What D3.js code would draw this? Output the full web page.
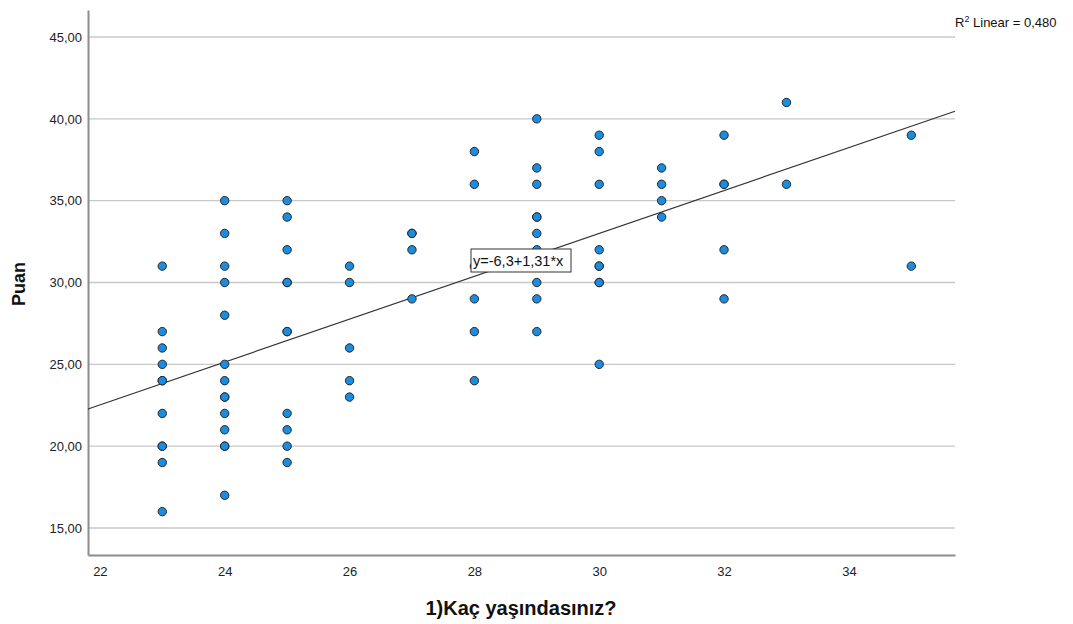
<!DOCTYPE html>
<html>
<head>
<meta charset="utf-8">
<script src="https://cdn.jsdelivr.net/npm/d3@7"></script>
<style>
  body { margin: 0; background: #fff; }
  text { font-family: "Liberation Sans", Arial, sans-serif; }
</style>
</head>
<body>
<script>
// ages (x) and scores (y), one entry per respondent
var ages   = [23,23,23,23,23,23,23,23,23,23,23,
              24,24,24,24,24,24,24,24,24,24,24,24,24,24,
              25,25,25,25,25,25,25,25,25,25,25,
              26,26,26,26,26,
              27,27,27,27,
              28,28,28,28,28,28,
              29,29,29,29,29,29,29,29,29,29,
              30,30,30,30,30,30,30,30,30,
              31,31,31,31,
              32,32,32,32,32,
              33,33,
              35,35];
var scores = [31,27,26,25,24,24,22,20,20,19,16,
              35,33,31,30,28,25,24,23,23,22,21,20,20,17,
              35,34,32,30,30,27,27,22,21,20,19,
              31,30,26,24,23,
              33,33,32,29,
              38,36,31,29,27,24,
              40,37,36,34,34,33,32,30,29,27,
              39,38,36,32,31,31,30,30,25,
              37,36,35,34,
              39,36,36,32,29,
              41,36,
              39,31];
var yTicks = [15,20,25,30,35,40,45];
var xTicks = [22,24,26,28,30,32,34];
var fitB0 = -6.3, fitB1 = 1.31;
var fitLabel = "y=-6,3+1,31*x";
var r2Label = "0,480";

var W = 1073, H = 624;
var margin = {top: 10, right: 118, bottom: 69, left: 88};

var svg = d3.select("body").append("svg")
    .attr("width", W)
    .attr("height", H);

var x = d3.scaleLinear().domain([21.81, 35.70]).range([margin.left, W - margin.right]);
var y = d3.scaleLinear().domain([13.35, 46.65]).range([H - margin.bottom, margin.top]);

// grid lines
svg.append("g").selectAll("line")
    .data(yTicks)
    .enter().append("line")
    .attr("x1", margin.left).attr("x2", W - margin.right)
    .attr("y1", d => y(d)).attr("y2", d => y(d))
    .attr("stroke", "#c8c8c8")
    .attr("stroke-width", 1.3);

// y axis
var yAxis = svg.append("g")
    .attr("transform", "translate(" + margin.left + ",0)")
    .call(d3.axisLeft(y).tickValues(yTicks).tickSize(0).tickPadding(6)
        .tickFormat(d => d3.format(".2f")(d).replace(".", ",")));
yAxis.select(".domain").attr("stroke", "#8c8c8c").attr("stroke-width", 2);
yAxis.selectAll("text").attr("font-size", 13).attr("fill", "#222").attr("font-family", "Liberation Sans, Arial, sans-serif");

// x axis
var xAxis = svg.append("g")
    .attr("transform", "translate(0," + (H - margin.bottom) + ")")
    .call(d3.axisBottom(x).tickValues(xTicks).tickSize(0).tickPadding(12));
xAxis.select(".domain").attr("stroke", "#8c8c8c").attr("stroke-width", 2);
xAxis.selectAll("text").attr("font-size", 13).attr("fill", "#222").attr("font-family", "Liberation Sans, Arial, sans-serif");

// fit line
var x0 = x.domain()[0], x1 = x.domain()[1];
svg.append("line")
    .attr("x1", x(x0)).attr("y1", y(fitB0 + fitB1 * x0))
    .attr("x2", x(x1)).attr("y2", y(fitB0 + fitB1 * x1))
    .attr("stroke", "#333")
    .attr("stroke-width", 1.2);

// points
svg.append("g").selectAll("circle")
    .data(ages.map((a, i) => [a, scores[i]]))
    .enter().append("circle")
    .attr("cx", d => x(d[0]))
    .attr("cy", d => y(d[1]))
    .attr("r", 4.2)
    .attr("fill", "#1a8de0")
    .attr("stroke", "#262626")
    .attr("stroke-width", 1);

// fit equation box
var lab = svg.append("g");
lab.append("rect")
    .attr("x", 471).attr("y", 249)
    .attr("width", 100).attr("height", 23)
    .attr("fill", "#fff").attr("stroke", "#333").attr("stroke-width", 1);
lab.append("text")
    .attr("x", 473).attr("y", 266)
    .attr("font-size", 14.5)
    .attr("fill", "#111")
    .text(fitLabel);

// R2 label
var r2 = svg.append("text")
    .attr("x", 955).attr("y", 27)
    .attr("font-size", 13)
    .attr("fill", "#111");
r2.append("tspan").text("R");
r2.append("tspan").attr("font-size", 9).attr("dy", -5).text("2");
r2.append("tspan").attr("dy", 5).text(" Linear = " + r2Label);

// axis titles
svg.append("text")
    .attr("x", 521).attr("y", 615)
    .attr("text-anchor", "middle")
    .attr("font-size", 20)
    .attr("font-weight", "bold")
    .attr("fill", "#111")
    .text("1)Kaç yaşındasınız?");

svg.append("text")
    .attr("transform", "translate(25,284) rotate(-90)")
    .attr("text-anchor", "middle")
    .attr("font-size", 18)
    .attr("font-weight", "bold")
    .attr("fill", "#111")
    .text("Puan");
</script>
</body>
</html>
